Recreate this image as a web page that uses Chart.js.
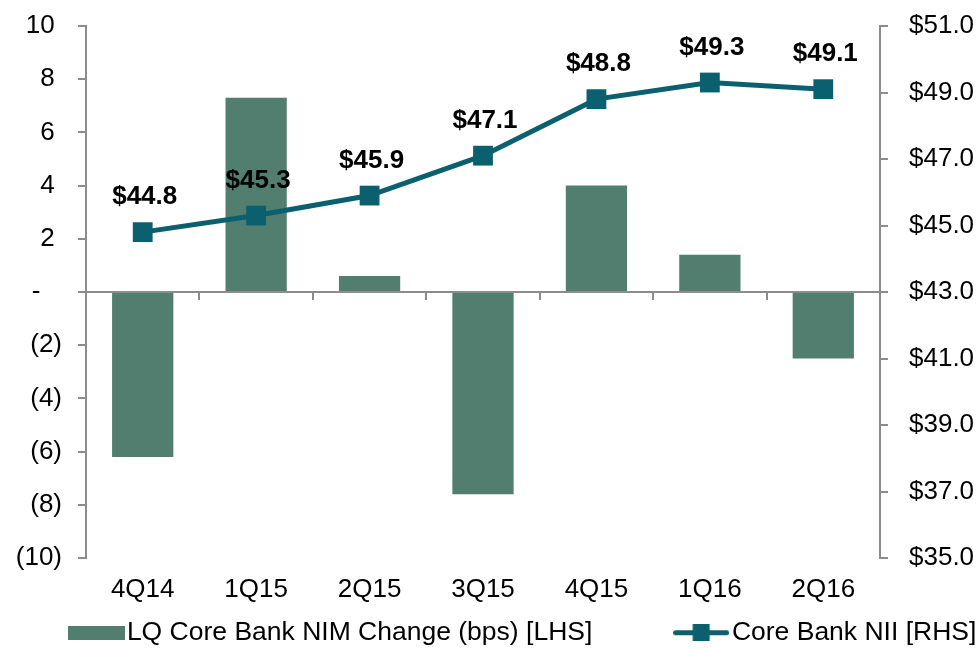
<!DOCTYPE html>
<html lang="en">
  <head>
    <meta charset="UTF-8" />
    <title>Core Bank NIM and NII</title>
    <script src="https://cdn.jsdelivr.net/npm/chart.js"></script>
    <style>
      html, body { margin: 0; padding: 0; background: #fff; }
      #wrap { width: 980px; height: 648px; }
    </style>
  </head>
  <body>
    <div id="wrap"><canvas id="nimChart" width="980" height="648"></canvas></div>

    <script>
      // data
      const quarters = ['4Q14', '1Q15', '2Q15', '3Q15', '4Q15', '1Q16', '2Q16'];
      const nimChange = [-6.2, 7.3, 0.6, -7.6, 4.0, 1.4, -2.5];   // bps, left axis
      const coreNii = [44.8, 45.3, 45.9, 47.1, 48.8, 49.3, 49.1];  // $, right axis
      const barName = 'LQ Core Bank NIM Change (bps) [LHS]';
      const lineName = 'Core Bank NII [RHS]';

      const barColor = '#517e6e';
      const lineColor = '#0b6070';
      const axisGray = '#8c8c8c';
      const FONT = '"Liberation Sans", Arial, sans-serif';

      // legend swatches
      function swatchBar() {
        const c = document.createElement('canvas');
        c.width = 57; c.height = 14;
        const g = c.getContext('2d');
        g.fillStyle = barColor;
        g.fillRect(0, 0, 57, 14);
        return c;
      }
      function swatchLine() {
        const c = document.createElement('canvas');
        c.width = 56; c.height = 17;
        const g = c.getContext('2d');
        g.strokeStyle = lineColor;
        g.lineWidth = 5;
        g.lineCap = 'round';
        g.beginPath(); g.moveTo(2.5, 8.5); g.lineTo(53.5, 8.5); g.stroke();
        g.fillStyle = lineColor;
        g.fillRect(19.5, 0, 17, 17);
        return c;
      }

      // $ labels above the line points
      const valueLabels = {
        id: 'valueLabels',
        afterDatasetsDraw(chart) {
          const ctx = chart.ctx;
          const meta = chart.getDatasetMeta(1);
          ctx.save();
          ctx.font = 'bold 26px ' + FONT;
          ctx.fillStyle = '#000';
          ctx.textAlign = 'center';
          ctx.textBaseline = 'middle';
          meta.data.forEach((pt, i) => {
            ctx.fillText('$' + coreNii[i].toFixed(1), pt.x + 2, pt.y - 35);
          });
          ctx.restore();
        }
      };

      const ctx = document.getElementById('nimChart').getContext('2d');
      new Chart(ctx, {
        type: 'bar',
        data: {
          labels: quarters,
          datasets: [
            {
              label: barName,
              data: nimChange,
              backgroundColor: barColor,
              yAxisID: 'y',
              xAxisID: 'x',
              categoryPercentage: 1,
              barPercentage: 0.54,
              order: 1
            },
            {
              type: 'line',
              label: lineName,
              data: coreNii,
              borderColor: lineColor,
              backgroundColor: lineColor,
              borderWidth: 5,
              pointStyle: 'rect',
              pointRadius: 14,
              pointBorderWidth: 0,
              pointBackgroundColor: lineColor,
              tension: 0,
              yAxisID: 'y1',
              xAxisID: 'x',
              order: 0
            }
          ]
        },
        options: {
          responsive: false,
          animation: false,
          layout: { padding: { left: 0, right: -75, top: 26, bottom: -8 } },
          plugins: {
            tooltip: { enabled: false },
            legend: {
              position: 'bottom',
              align: 'center',
              labels: {
                usePointStyle: true,
                pointStyleWidth: 35,
                padding: 3,
                color: '#000',
                font: { size: 26.5, family: FONT },
                generateLabels: () => [
                  { text: barName + ' '.repeat(12), pointStyle: swatchBar(), hidden: false, datasetIndex: 0, lineWidth: 0 },
                  { text: lineName, pointStyle: swatchLine(), hidden: false, datasetIndex: 1, lineWidth: 0 }
                ]
              }
            }
          },
          scales: {
            x: {
              type: 'category',
              position: 'bottom',
              offset: true,
              grid: { display: false, drawTicks: false, offset: true },
              border: { display: false },
              ticks: { color: '#000', font: { size: 26, family: FONT }, padding: 16, maxRotation: 0 },
              afterFit: (s) => { s.height = 58.5; }
            },
            x2: {
              type: 'category',
              position: { y: 0 },
              offset: true,
              grid: { offset: true, drawOnChartArea: false, drawTicks: true, tickLength: 7, tickColor: axisGray, lineWidth: 2 },
              border: { color: axisGray, width: 2 },
              ticks: { display: false },
              afterFit: (s) => { s.height = 0; }
            },
            y: {
              position: 'left',
              min: -10,
              max: 10,
              grid: { drawOnChartArea: false, drawTicks: true, tickLength: 8, tickColor: axisGray, lineWidth: 2 },
              border: { color: axisGray, width: 2 },
              ticks: {
                stepSize: 2,
                color: '#000',
                padding: 16,
                font: { size: 26, family: FONT, lineHeight: 0.3 },
                callback: (v) => v < 0 ? '(' + (-v) + ')' : (v === 0 ? '-   ' : v + ' ')
              },
              afterFit: (s) => { s.width = 86; }
            },
            y1: {
              position: 'right',
              min: 35,
              max: 51,
              grid: { drawOnChartArea: false, drawTicks: true, tickLength: 8, tickColor: axisGray, lineWidth: 2 },
              border: { color: axisGray, width: 2 },
              ticks: {
                stepSize: 2,
                color: '#000',
                padding: 21,
                font: { size: 26, family: FONT, lineHeight: 0.3 },
                callback: (v) => '$' + v.toFixed(1)
              },
              afterFit: (s) => { s.width = 175; }
            }
          }
        },
        plugins: [valueLabels]
      });
    </script>
  </body>
</html>
